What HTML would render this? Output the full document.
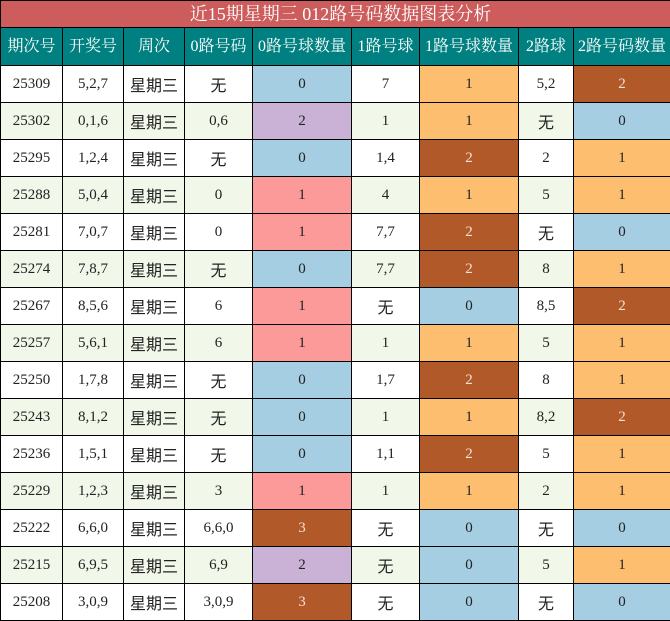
<!DOCTYPE html>
<html><head><meta charset="utf-8"><style>
html,body{margin:0;padding:0;background:#fff;width:670px;height:620px;overflow:hidden}
table{border-collapse:collapse;table-layout:fixed;position:absolute;left:0;top:0;width:670px}
tr{height:37px}
tr.tt{height:27px}
tr.h{height:38px}
td{border:1.5px solid #000;text-align:center;padding:0;font-family:"Liberation Serif","Noto Serif CJK SC","Noto Sans CJK SC",serif;font-size:15px;color:#222;line-height:1}
td.t{background:#CD5C5C;color:#fff;font-size:18px;padding-left:10px}
tr.h td{background:#008080;color:#fff;font-size:16px}
tr:nth-child(even) td{background:#F1F7E9}
tr:nth-child(odd) td{background:#fff}
tr td.b{background:#A6CEE3}tr td.o{background:#FDBF6F}tr td.r{background:#B15928;color:#f4e0d4}tr td.p{background:#FB9A99}tr td.u{background:#CAB2D6}
.c{font-family:"Noto Sans CJK SC",sans-serif;font-size:16px}
</style></head><body>
<table>
<colgroup><col style="width:62px"><col style="width:61px"><col style="width:61px"><col style="width:68px"><col style="width:99px"><col style="width:68px"><col style="width:99px"><col style="width:55px"><col style="width:97px"></colgroup>
<tr class="tt"><td class="t" colspan="9" style="background:#CD5C5C">近15期星期三 012路号码数据图表分析</td></tr>
<tr class="h"><td style="background:#008080">期次号</td><td style="background:#008080">开奖号</td><td style="background:#008080">周次</td><td style="background:#008080">0路号码</td><td style="background:#008080">0路号球数量</td><td style="background:#008080">1路号球</td><td style="background:#008080">1路号球数量</td><td style="background:#008080">2路球</td><td style="background:#008080">2路号码数量</td></tr>
<tr><td>25309</td><td>5,2,7</td><td class="c">星期三</td><td class="c">无</td><td class="b">0</td><td>7</td><td class="o">1</td><td>5,2</td><td class="r">2</td></tr>
<tr><td>25302</td><td>0,1,6</td><td class="c">星期三</td><td>0,6</td><td class="u">2</td><td>1</td><td class="o">1</td><td class="c">无</td><td class="b">0</td></tr>
<tr><td>25295</td><td>1,2,4</td><td class="c">星期三</td><td class="c">无</td><td class="b">0</td><td>1,4</td><td class="r">2</td><td>2</td><td class="o">1</td></tr>
<tr><td>25288</td><td>5,0,4</td><td class="c">星期三</td><td>0</td><td class="p">1</td><td>4</td><td class="o">1</td><td>5</td><td class="o">1</td></tr>
<tr><td>25281</td><td>7,0,7</td><td class="c">星期三</td><td>0</td><td class="p">1</td><td>7,7</td><td class="r">2</td><td class="c">无</td><td class="b">0</td></tr>
<tr><td>25274</td><td>7,8,7</td><td class="c">星期三</td><td class="c">无</td><td class="b">0</td><td>7,7</td><td class="r">2</td><td>8</td><td class="o">1</td></tr>
<tr><td>25267</td><td>8,5,6</td><td class="c">星期三</td><td>6</td><td class="p">1</td><td class="c">无</td><td class="b">0</td><td>8,5</td><td class="r">2</td></tr>
<tr><td>25257</td><td>5,6,1</td><td class="c">星期三</td><td>6</td><td class="p">1</td><td>1</td><td class="o">1</td><td>5</td><td class="o">1</td></tr>
<tr><td>25250</td><td>1,7,8</td><td class="c">星期三</td><td class="c">无</td><td class="b">0</td><td>1,7</td><td class="r">2</td><td>8</td><td class="o">1</td></tr>
<tr><td>25243</td><td>8,1,2</td><td class="c">星期三</td><td class="c">无</td><td class="b">0</td><td>1</td><td class="o">1</td><td>8,2</td><td class="r">2</td></tr>
<tr><td>25236</td><td>1,5,1</td><td class="c">星期三</td><td class="c">无</td><td class="b">0</td><td>1,1</td><td class="r">2</td><td>5</td><td class="o">1</td></tr>
<tr><td>25229</td><td>1,2,3</td><td class="c">星期三</td><td>3</td><td class="p">1</td><td>1</td><td class="o">1</td><td>2</td><td class="o">1</td></tr>
<tr><td>25222</td><td>6,6,0</td><td class="c">星期三</td><td>6,6,0</td><td class="r">3</td><td class="c">无</td><td class="b">0</td><td class="c">无</td><td class="b">0</td></tr>
<tr><td>25215</td><td>6,9,5</td><td class="c">星期三</td><td>6,9</td><td class="u">2</td><td class="c">无</td><td class="b">0</td><td>5</td><td class="o">1</td></tr>
<tr><td>25208</td><td>3,0,9</td><td class="c">星期三</td><td>3,0,9</td><td class="r">3</td><td class="c">无</td><td class="b">0</td><td class="c">无</td><td class="b">0</td></tr>
</table>
</body></html>
